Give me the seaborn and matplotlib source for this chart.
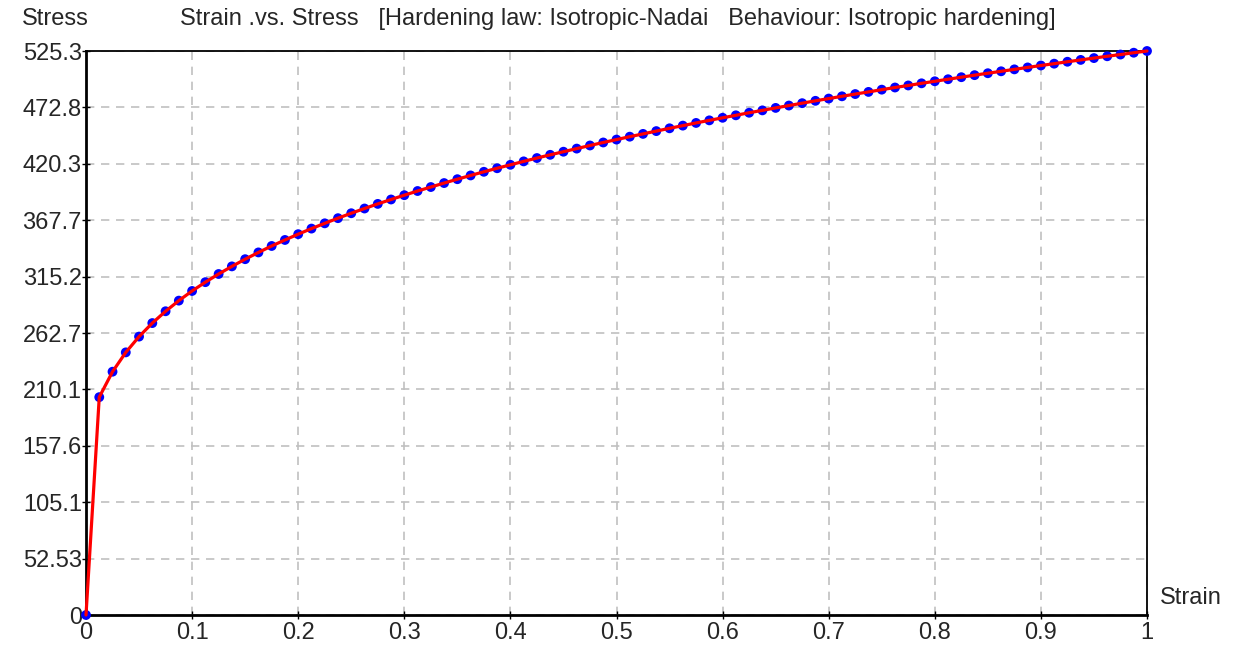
import matplotlib
matplotlib.use("Agg")
import matplotlib.pyplot as plt
import seaborn as sns
import pandas as pd

strain = [0.0, 0.0125, 0.025, 0.0375, 0.05, 0.0625, 0.075, 0.0875, 0.1,
          0.1125, 0.125, 0.1375, 0.15, 0.1625, 0.175, 0.1875, 0.2,
          0.2125, 0.225, 0.2375, 0.25, 0.2625, 0.275, 0.2875, 0.3,
          0.3125, 0.325, 0.3375, 0.35, 0.3625, 0.375, 0.3875, 0.4,
          0.4125, 0.425, 0.4375, 0.45, 0.4625, 0.475, 0.4875, 0.5,
          0.5125, 0.525, 0.5375, 0.55, 0.5625, 0.575, 0.5875, 0.6,
          0.6125, 0.625, 0.6375, 0.65, 0.6625, 0.675, 0.6875, 0.7,
          0.7125, 0.725, 0.7375, 0.75, 0.7625, 0.775, 0.7875, 0.8,
          0.8125, 0.825, 0.8375, 0.85, 0.8625, 0.875, 0.8875, 0.9,
          0.9125, 0.925, 0.9375, 0.95, 0.9625, 0.975, 0.9875, 1.0]
stress = [0.0, 202.9, 226.6, 244.6, 259.3, 271.9, 282.9, 292.8, 301.8,
          310.0, 317.6, 324.7, 331.4, 337.7, 343.7, 349.3, 354.7,
          359.9, 364.8, 369.6, 374.2, 378.6, 382.9, 387.0, 391.0,
          394.9, 398.6, 402.3, 405.9, 409.4, 412.8, 416.1, 419.3,
          422.5, 425.6, 428.6, 431.5, 434.4, 437.3, 440.1, 442.8,
          445.5, 448.1, 450.7, 453.3, 455.8, 458.3, 460.7, 463.1,
          465.4, 467.8, 470.0, 472.3, 474.5, 476.7, 478.9, 481.0,
          483.1, 485.2, 487.2, 489.3, 491.3, 493.2, 495.2, 497.1,
          499.0, 500.9, 502.8, 504.6, 506.4, 508.2, 510.0, 511.8,
          513.5, 515.3, 517.0, 518.7, 520.4, 522.0, 523.7, 525.3]

x_ticks = [0, 0.1, 0.2, 0.3, 0.4, 0.5, 0.6, 0.7, 0.8, 0.9, 1.0]
x_tick_labels = ["0", "0.1", "0.2", "0.3", "0.4", "0.5", "0.6", "0.7", "0.8", "0.9", "1"]
y_ticks = [0, 52.53, 105.06, 157.59, 210.12, 262.65, 315.18, 367.71, 420.24, 472.77, 525.3]
y_tick_labels = ["0", "52.53", "105.1", "157.6", "210.1", "262.7", "315.2", "367.7", "420.3", "472.8", "525.3"]

title = "Strain .vs. Stress   [Hardening law: Isotropic-Nadai   Behaviour: Isotropic hardening]"

sns.set_style("white")
plt.rcParams['font.family'] = ['Liberation Sans', 'DejaVu Sans']

df = pd.DataFrame({"strain": strain, "stress": stress})

fig = plt.figure(figsize=(12.35, 6.52), dpi=100)
ax = fig.add_axes([86 / 1235, 1 - 615 / 652, (1147 - 86) / 1235, (615 - 51) / 652])

sns.scatterplot(data=df, x="strain", y="stress", ax=ax, color="#0000ff",
                s=50, edgecolor="none", zorder=3, clip_on=False)
sns.lineplot(data=df, x="strain", y="stress", ax=ax, color="#ff0000",
             linewidth=2.3, zorder=4, clip_on=False)

ax.set_xlim(0, 1)
ax.set_ylim(0, 525.3)
ax.set_xticks(x_ticks)
ax.set_xticklabels(x_tick_labels)
ax.set_yticks(y_ticks)
ax.set_yticklabels(y_tick_labels)
ax.tick_params(axis="both", direction="inout", length=6, width=1, color="black",
               labelsize=17, bottom=True, left=True)
ax.tick_params(axis="y", pad=0)
ax.tick_params(axis="x", pad=2)
ax.grid(True, color="#c0c0c0", linestyle=(0, (5, 4)), linewidth=1.2)
ax.set_xlabel("")
ax.set_ylabel("")
for side in ["left", "bottom"]:
    ax.spines[side].set_linewidth(2)
    ax.spines[side].set_color("black")
for side in ["top", "right"]:
    ax.spines[side].set_linewidth(1.3)
    ax.spines[side].set_color("black")

fig.text(22 / 1235, 1 - 19 / 652, "Stress", fontsize=17, va="center", ha="left")
fig.text(180 / 1235, 1 - 19 / 652, title, fontsize=17, va="center", ha="left")
fig.text(1160 / 1235, 1 - 598 / 652, "Strain", fontsize=17, va="center", ha="left")

fig.savefig("out.png", dpi=100)
